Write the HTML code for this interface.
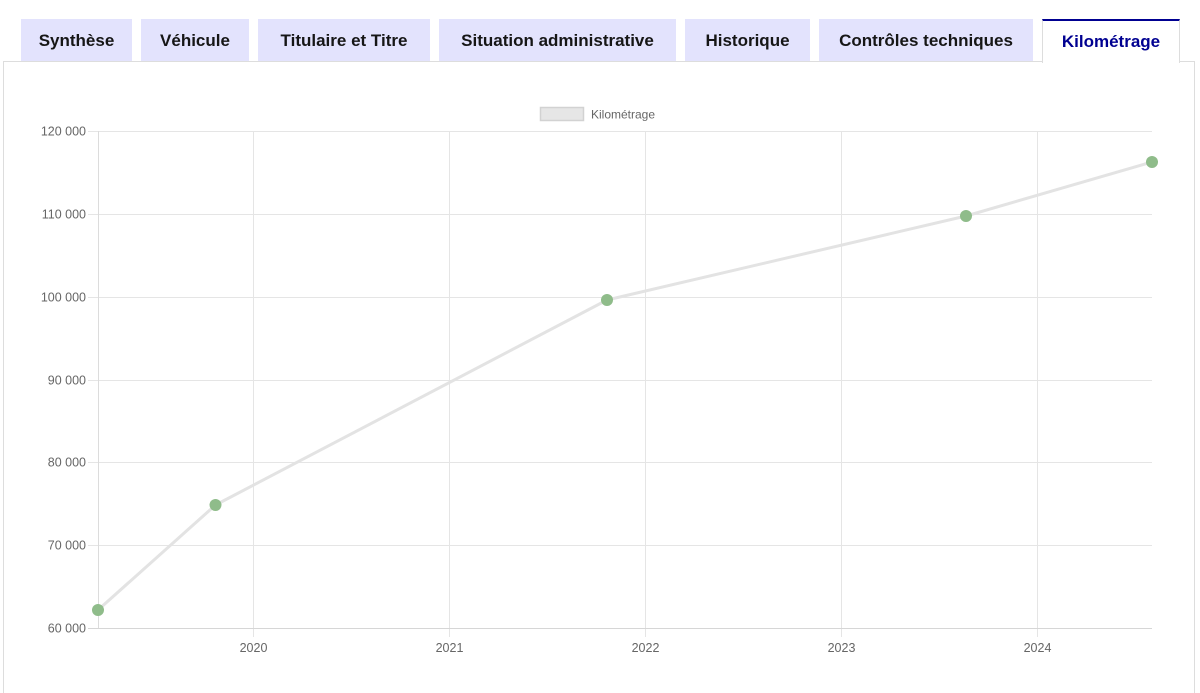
<!DOCTYPE html>
<html>
<head>
<meta charset="utf-8">
<style>
  html,body{margin:0;padding:0;background:#fff;width:1200px;height:693px;overflow:hidden;}
  body{position:relative;font-family:"Liberation Sans",Arial,sans-serif;}
  .panel{position:absolute;left:3px;top:61px;width:1192px;height:636px;border:1px solid #dddddd;border-bottom:none;box-sizing:border-box;background:#fff;}
  .tab{position:absolute;top:19px;height:42px;background:#e3e3fd;color:#161616;font-weight:bold;font-size:17px;line-height:44px;text-align:center;white-space:nowrap;}
  .tab.active{background:#fff;color:#000091;border-top:2px solid #000091;border-left:1px solid #dddddd;border-right:1px solid #dddddd;box-sizing:border-box;height:44px;line-height:42px;}
  svg{position:absolute;left:0;top:0;}
</style>
</head>
<body>
<div class="panel"></div>
<div class="tab" style="left:21px;width:111px;">Synthèse</div>
<div class="tab" style="left:141px;width:108px;">Véhicule</div>
<div class="tab" style="left:258px;width:172px;">Titulaire et Titre</div>
<div class="tab" style="left:439px;width:237px;">Situation administrative</div>
<div class="tab" style="left:685px;width:125px;">Historique</div>
<div class="tab" style="left:819px;width:214px;">Contrôles techniques</div>
<div class="tab active" style="left:1042px;width:138px;">Kilométrage</div>

<svg width="1200" height="693" viewBox="0 0 1200 693" xmlns="http://www.w3.org/2000/svg">
  <!-- legend -->
  <rect x="540.5" y="107.5" width="43" height="13" fill="#e6e6e6" stroke="#d2d2d2" stroke-width="1.5"/>
  <text x="591" y="118.5" font-family="Liberation Sans, Arial, sans-serif" font-size="12" fill="#666">Kilométrage</text>

  <!-- horizontal grid -->
  <g stroke="#e5e5e5" stroke-width="1">
    <line x1="88" y1="131.5" x2="1152" y2="131.5"/>
    <line x1="88" y1="214.5" x2="1152" y2="214.5"/>
    <line x1="88" y1="297.5" x2="1152" y2="297.5"/>
    <line x1="88" y1="380.5" x2="1152" y2="380.5"/>
    <line x1="88" y1="462.5" x2="1152" y2="462.5"/>
    <line x1="88" y1="545.5" x2="1152" y2="545.5"/>
  </g>
  <!-- vertical grid -->
  <g stroke="#e5e5e5" stroke-width="1">
    <line x1="253.5" y1="131" x2="253.5" y2="637"/>
    <line x1="449.5" y1="131" x2="449.5" y2="637"/>
    <line x1="645.5" y1="131" x2="645.5" y2="637"/>
    <line x1="841.5" y1="131" x2="841.5" y2="637"/>
    <line x1="1037.5" y1="131" x2="1037.5" y2="637"/>
  </g>
  <!-- axes -->
  <line x1="98.5" y1="131" x2="98.5" y2="628" stroke="#dcdcdc" stroke-width="1"/>
  <line x1="88" y1="628.5" x2="1152" y2="628.5" stroke="#d6d6d6" stroke-width="1"/>

  <!-- y labels -->
  <g font-family="Liberation Sans, Arial, sans-serif" font-size="12.5" fill="#666" text-anchor="end">
    <text x="86" y="135.5">120 000</text>
    <text x="86" y="218.5">110 000</text>
    <text x="86" y="301.5">100 000</text>
    <text x="86" y="384.5">90 000</text>
    <text x="86" y="466.5">80 000</text>
    <text x="86" y="549.5">70 000</text>
    <text x="86" y="632.5">60 000</text>
  </g>
  <!-- x labels -->
  <g font-family="Liberation Sans, Arial, sans-serif" font-size="12.5" fill="#666" text-anchor="middle">
    <text x="253.5" y="652">2020</text>
    <text x="449.5" y="652">2021</text>
    <text x="645.5" y="652">2022</text>
    <text x="841.5" y="652">2023</text>
    <text x="1037.5" y="652">2024</text>
  </g>

  <!-- series -->
  <polyline points="98,610 215.5,505 607,300 966,216 1152,162" fill="none" stroke="#e3e3e3" stroke-width="3" stroke-linejoin="round"/>
  <g fill="#8fbc8a">
    <circle cx="98" cy="610" r="6"/>
    <circle cx="215.5" cy="505" r="6"/>
    <circle cx="607" cy="300" r="6"/>
    <circle cx="966" cy="216" r="6"/>
    <circle cx="1152" cy="162" r="6"/>
  </g>
</svg>
</body>
</html>
